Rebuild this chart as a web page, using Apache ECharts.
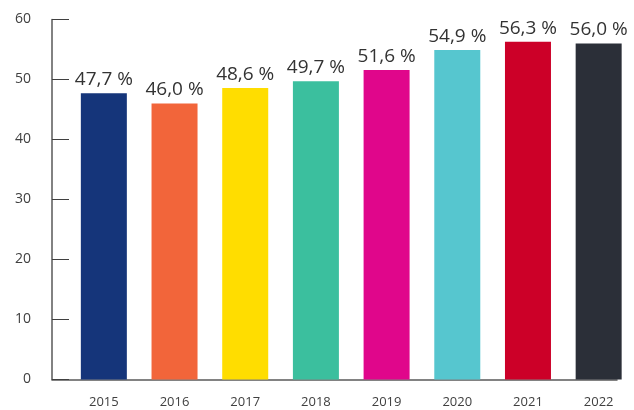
<!DOCTYPE html>
<html>
<head>
<meta charset="utf-8">
<script src="https://cdn.jsdelivr.net/npm/echarts@6/dist/echarts.min.js"></script>
<style>
  html, body { margin: 0; padding: 0; background: #fff; }
  #bar-chart { width: 634px; height: 410px; }
</style>
</head>
<body>
<div id="bar-chart"></div>
<script>
// data
var years = ["2015", "2016", "2017", "2018", "2019", "2020", "2021", "2022"];
var shares = [47.7, 46.0, 48.6, 49.7, 51.6, 54.9, 56.3, 56.0];
var barColors = ["#15357a", "#f2653a", "#ffdd00", "#3bbf9e", "#e0068b", "#56c6cf", "#cc0028", "#2b2f38"];
var yTicks = [0, 10, 20, 30, 40, 50, 60];

var font = "'Open Sans', 'Noto Sans', sans-serif";
var chart = echarts.init(document.getElementById("bar-chart"), null, { renderer: "canvas" });

chart.setOption({
  animation: false,
  grid: [
    // bars
    { left: 68.5, right: -2.5, top: 19.5, bottom: 30.5 },
    // visible axis frame
    { left: 52, right: 17, top: 19.5, bottom: 30.5 }
  ],
  xAxis: [
    {
      type: "category",
      gridIndex: 0,
      data: years,
      axisLine: { show: false },
      axisTick: { show: false },
      axisLabel: { color: "#404040", fontSize: 13, fontFamily: font, margin: 16 }
    },
    {
      type: "value",
      gridIndex: 1,
      min: 0,
      max: 1,
      axisLine: { show: true, lineStyle: { color: "#595959", width: 1.5 } },
      axisTick: { show: false },
      axisLabel: { show: false },
      splitLine: { show: false }
    }
  ],
  yAxis: [
    {
      type: "value",
      gridIndex: 0,
      min: yTicks[0],
      max: yTicks[yTicks.length - 1],
      interval: 10,
      show: false
    },
    {
      type: "value",
      gridIndex: 1,
      min: yTicks[0],
      max: yTicks[yTicks.length - 1],
      interval: 10,
      axisLine: { show: true, lineStyle: { color: "#595959", width: 1.5 } },
      axisTick: { show: true, inside: true, length: 17, lineStyle: { color: "#404040", width: 1 } },
      axisLabel: { color: "#404040", fontSize: 14, fontFamily: font, margin: 21 },
      splitLine: { show: false }
    }
  ],
  series: [
    {
      type: "bar",
      xAxisIndex: 0,
      yAxisIndex: 0,
      barWidth: 46,
      data: shares.map(function (v, i) {
        return { value: v, itemStyle: { color: barColors[i] } };
      }),
      label: {
        show: true,
        position: "top",
        distance: 4,
        color: "#333333",
        fontSize: 19,
        fontFamily: font,
        formatter: function (p) {
          return p.value.toFixed(1).replace(".", ",") + " %";
        }
      }
    }
  ]
});
</script>
</body>
</html>
